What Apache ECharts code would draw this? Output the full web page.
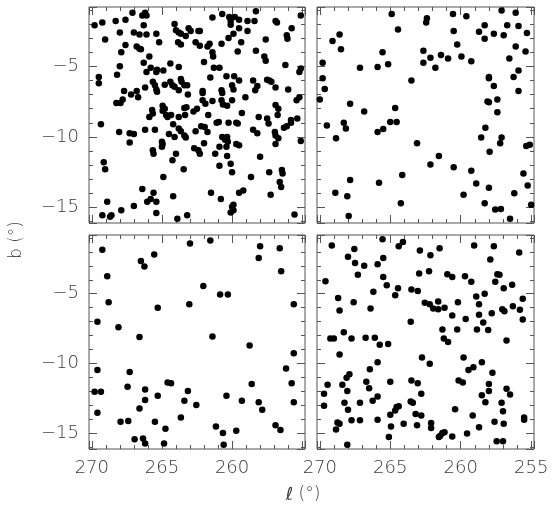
<!DOCTYPE html>
<html><head><meta charset="utf-8">
<script src="https://cdn.jsdelivr.net/npm/echarts@6/dist/echarts.min.js"></script>
<style>html,body{margin:0;padding:0;background:#fff}#c{width:560px;height:511px}</style>
</head><body><div id="c"></div>
<script>
// tick labels
const xTickLabelsLeft = [270, 265, 260];
const xTickLabelsRight = [270, 265, 260, 255];
const yTickLabels = [-5, -10, -15];
const xTitleSymbol = 'ℓ';
const xTitleUnit = '(°)';
const yTitle = 'b (°)';

// panel data: [l, b] in degrees
const panelA = [
[267.1,-1.2],[266.4,-1.4],[266.2,-1.2],[266.1,-1.4],[268.3,-1.8],[267.6,-1.7],[269.25,-1.9],[261.4,-1.55],[260.7,-1.3],[260.2,-1.5],[259.8,-1.5],[259.5,-1.7],[260.1,-1.8],[260.1,-2.05],[258.9,-1.8],[258.4,-1.8],[258.3,-1.1],[256.9,-1.8],[256.8,-1.9],[255.1,-1.4],[255.75,-2.3],
[269.8,-2.1],[268.0,-2.6],[267.0,-2.6],[266.3,-2.1],[266.6,-2.75],[266.1,-2.75],[265.4,-2.7],[269.05,-3.1],[264.1,-2.0],[264.0,-2.45],[263.8,-2.6],[263.65,-2.7],[263.1,-2.3],[262.95,-2.5],[263.3,-2.85],[262.4,-2.5],[262.3,-2.5],[260.25,-3.0],[259.9,-2.7],[259.5,-2.3],[258.9,-2.5],[256.1,-2.8],[256.05,-3.05],[257.6,-3.1],[265.2,-3.3],[263.85,-3.3],[263.65,-3.45],[262.6,-3.3],[262.3,-3.55],
[267.6,-3.5],[267.9,-4.0],[266.8,-3.6],[266.6,-3.75],[266.5,-3.8],[265.9,-4.3],[266.3,-4.75],[261.75,-3.6],[261.6,-3.4],[261.4,-4.0],[261.35,-4.3],[260.75,-3.4],[259.6,-3.95],[259.35,-3.3],[258.3,-3.9],[257.7,-4.3],[257.6,-4.6],[256.2,-4.9],[264.4,-4.8],[263.8,-5.05],[262.0,-4.7],[261.3,-5.1],[260.9,-5.1],[268.0,-5.0],
[268.2,-5.6],[269.5,-5.75],[269.5,-6.2],[266.1,-5.4],[265.8,-5.1],[265.4,-5.4],[265.35,-5.25],[264.9,-5.3],[266.2,-6.5],[265.65,-6.1],[265.5,-6.35],[265.4,-6.65],[265.35,-6.8],[264.8,-6.3],[264.4,-6.1],[264.25,-6.35],[264.1,-6.45],[263.65,-5.9],[263.6,-6.1],[263.4,-6.35],[263.2,-6.35],[263.8,-6.7],[263.15,-7.0],[267.7,-6.75],[266.8,-6.75],[261.55,-5.8],[262.1,-6.75],[262.1,-6.9],[260.75,-6.7],[260.7,-6.9],[260.4,-5.7],[260.0,-6.35],[259.85,-5.7],[259.5,-6.0],[259.9,-6.65],[259.05,-7.2],[258.5,-6.0],[258.35,-6.7],[258.2,-6.4],[257.5,-5.95],[257.35,-6.0],[257.2,-6.1],[256.9,-6.5],[256.0,-6.65],[255.1,-5.15],[255.2,-5.4],[255.4,-7.4],[255.2,-7.2],
[268.25,-7.6],[267.95,-7.6],[267.8,-7.35],[267.2,-7.0],[266.7,-7.2],[264.95,-7.8],[264.8,-8.0],[264.95,-8.15],[265.9,-8.6],[265.65,-8.35],[265.7,-8.1],[264.7,-8.45],[264.6,-8.6],[264.35,-8.45],[263.8,-8.6],[263.35,-8.45],[263.4,-7.95],[263.25,-7.9],[262.75,-8.2],[262.5,-8.0],[262.1,-7.4],[261.9,-7.65],[261.7,-8.45],[261.4,-7.45],[260.75,-7.4],[260.65,-7.7],[260.35,-7.8],[260.0,-7.4],[259.3,-8.3],[258.1,-8.6],[256.9,-7.75],[256.7,-8.0],[256.75,-8.45],[255.8,-8.8],[255.35,-8.7],
[269.35,-9.1],[268.05,-9.65],[267.3,-9.75],[267.0,-9.8],[267.3,-10.4],[266.2,-9.5],[265.5,-9.5],[265.0,-10.35],[264.95,-10.5],[265.0,-10.7],[264.2,-9.1],[263.8,-9.4],[263.65,-9.6],[263.4,-9.9],[263.3,-10.05],[264.5,-9.8],[264.1,-10.0],[262.6,-9.6],[262.2,-9.25],[261.95,-9.3],[261.75,-9.65],[261.1,-9.0],[260.95,-8.95],[260.25,-9.0],[259.7,-9.0],[259.6,-9.05],[260.7,-10.0],[260.35,-10.0],[260.5,-10.2],[260.3,-10.35],[259.7,-10.5],[259.5,-10.6],[258.5,-9.5],[258.2,-9.75],[257.5,-8.7],[257.4,-9.05],[256.95,-9.65],[256.9,-9.9],[256.9,-10.5],[256.7,-10.1],[256.3,-9.35],[256.1,-9.25],[255.8,-9.0],[255.1,-10.3],
[265.65,-10.95],[265.6,-11.2],[264.0,-11.2],[264.25,-11.65],[262.7,-10.8],[262.4,-10.95],[262.3,-11.2],[262.0,-10.45],[261.2,-11.2],[260.9,-10.7],[260.4,-10.7],[260.35,-11.35],[260.9,-12.05],[260.1,-11.9],[260.0,-12.5],[258.65,-12.85],[258.0,-11.4],[257.35,-12.5],[256.45,-12.35],[256.4,-12.6],[263.45,-12.3],[264.9,-12.85],[269.15,-11.8],[269.05,-12.3],
[266.4,-13.7],[266.05,-14.6],[265.8,-14.4],[265.6,-13.95],[265.4,-14.6],[265.4,-15.4],[264.2,-14.2],[263.9,-15.8],[263.2,-15.55],[261.5,-13.95],[260.8,-14.4],[260.0,-14.95],[259.9,-14.8],[259.9,-15.2],[260.1,-15.35],[259.5,-13.95],[259.2,-13.8],[257.25,-14.1],[256.6,-13.2],[256.5,-13.55],[255.55,-15.5],[268.9,-14.6],[269.25,-15.55],[268.7,-15.65],[268.6,-15.55],[267.9,-15.2],[267.0,-14.9]
];
const panelB = [
[264.9,-1.3],[262.4,-1.6],[262.45,-1.9],[260.55,-1.3],[259.6,-1.45],[257.1,-1.05],[256.1,-1.2],[264.45,-2.4],[268.6,-2.75],[269.1,-3.2],[268.5,-3.8],[260.5,-2.5],[260.25,-3.45],[258.7,-2.55],[258.3,-2.1],[258.3,-3.05],[257.65,-2.7],[256.95,-2.8],[256.7,-2.1],[255.9,-2.15],[255.3,-2.65],[256.1,-3.6],[255.4,-3.95],
[265.55,-4.0],[262.65,-3.9],[262.65,-4.75],[262.15,-4.4],[261.4,-4.2],[260.9,-4.45],[259.95,-4.3],[259.25,-4.65],[261.8,-5.1],[256.55,-4.45],[267.15,-5.1],[265.9,-5.05],[265.15,-4.85],[269.8,-4.75],[269.8,-5.85],[269.65,-6.6],[270.0,-7.35],[263.5,-6.0],[258.0,-5.75],[258.0,-5.85],[257.65,-6.4],[257.4,-7.35],[258.1,-7.5],[258.0,-7.55],[257.4,-8.25],[256.25,-5.75],[255.9,-5.3],[255.9,-6.75],
[267.85,-7.65],[266.85,-8.2],[269.5,-9.2],[268.3,-9.0],[268.15,-9.4],[268.85,-10.1],[265.9,-9.65],[265.5,-9.45],[265.0,-8.95],[264.65,-7.95],[264.55,-8.95],[263.1,-10.45],[258.25,-9.35],[258.55,-10.05],[257.1,-10.05],[257.2,-10.45],[257.95,-11.05],[255.35,-10.65],[255.1,-10.55],
[261.55,-11.35],[262.15,-11.95],[260.5,-12.15],[259.25,-12.4],[258.9,-13.3],[258.0,-13.6],[255.55,-12.6],[255.25,-13.45],[256.2,-14.0],[259.8,-14.1],[258.3,-14.7],[257.55,-15.15],[257.15,-15.1],[256.5,-15.8],[255.0,-14.8],[264.15,-12.7],[264.25,-14.7],[265.8,-13.25],[267.85,-13.05],[268.9,-13.95],[268.05,-14.2],[267.95,-15.6]
];
const panelC = [
[269.25,-1.85],[268.9,-3.75],[268.8,-5.6],[269.6,-7.0],[268.1,-7.4],[266.5,-2.65],[266.25,-3.05],[265.55,-2.2],[265.3,-6.0],[266.6,-8.1],[263.0,-1.4],[261.55,-1.2],[263.05,-5.75],[262.05,-4.45],[260.85,-5.05],[260.3,-5.05],[261.4,-8.05],[258.0,-1.6],[258.1,-2.45],[256.6,-1.75],[256.5,-3.4],[255.6,-5.75],[258.75,-8.7],[255.6,-9.25],
[269.6,-10.45],[269.8,-12.0],[269.35,-12.0],[269.6,-13.5],[267.3,-10.6],[267.45,-11.65],[267.95,-14.15],[267.4,-14.1],[266.95,-15.4],[266.35,-15.35],[266.2,-15.7],[266.6,-13.2],[266.2,-11.85],[266.2,-12.6],[265.3,-12.3],[265.5,-14.15],[264.75,-14.65],[264.85,-15.7],[264.6,-11.35],[264.35,-11.4],[263.65,-13.85],[263.4,-12.65],[263.15,-11.95],[262.55,-12.95],[261.15,-14.5],[260.65,-14.95],[260.6,-15.8],[260.4,-12.3],[259.7,-14.8],[259.3,-12.65],[258.6,-11.45],[258.1,-12.75],[257.85,-13.3],[256.9,-14.4],[256.55,-14.75],[256.15,-10.35],[255.75,-11.4],[255.6,-12.75]
];
const panelD = [
[269.15,-1.55],[265.55,-1.1],[264.1,-1.3],[264.4,-1.6],[267.55,-1.8],[268.0,-2.35],[267.5,-2.8],[266.85,-3.0],[265.5,-2.45],[265.9,-2.9],[267.3,-3.65],[265.5,-3.8],[265.25,-4.4],[264.45,-4.6],[264.65,-5.1],[266.2,-4.85],[269.6,-4.1],[268.7,-5.3],[268.6,-6.2],[267.6,-5.6],[266.4,-6.05],[263.55,-7.0],[263.5,-4.7],[263.05,-4.8],
[262.9,-1.9],[262.15,-2.25],[261.5,-1.75],[262.95,-3.55],[262.25,-3.4],[262.55,-5.65],[262.2,-5.75],[261.95,-6.05],[261.6,-6.1],[261.6,-5.55],[261.15,-6.0],[260.2,-5.6],[260.6,-6.55],[260.95,-3.6],[260.6,-3.8],[259.7,-3.75],[259.25,-4.15],[259.05,-1.55],[257.9,-2.55],[257.65,-1.6],[257.4,-3.6],[257.25,-3.65],[257.55,-4.15],[256.95,-4.6],[256.35,-4.35],[255.85,-2.05],
[258.9,-5.2],[258.7,-5.75],[258.7,-6.5],[258.4,-7.05],[258.3,-5.0],[257.8,-6.4],[258.05,-7.6],[258.85,-7.55],[259.65,-6.8],[260.25,-7.55],[257.05,-6.1],[256.9,-6.25],[256.3,-5.9],[255.8,-6.15],[255.6,-5.35],[255.6,-6.85],[256.75,-8.35],[261.3,-7.55],[261.2,-8.2],[260.9,-8.45],
[269.25,-8.2],[269.0,-8.2],[268.3,-7.75],[267.75,-8.2],[266.75,-8.15],[266.1,-8.15],[265.75,-8.65],[265.15,-8.6],[268.6,-9.35],[265.9,-9.9],[266.45,-10.4],[262.75,-9.55],[262.2,-10.0],[259.8,-9.55],[259.45,-10.45],[259.1,-10.25],[258.5,-9.9],[257.75,-10.65],[258.0,-11.45],[258.0,-11.95],[256.75,-11.8],[256.5,-12.2],[258.5,-12.25],[258.25,-12.75],[260.15,-11.2],[259.85,-11.35],
[268.1,-11.0],[267.9,-10.75],[269.45,-11.5],[268.4,-11.5],[268.05,-11.95],[269.7,-12.15],[269.7,-13.0],[268.25,-12.8],[268.0,-13.3],[267.15,-12.8],[266.7,-11.3],[266.5,-11.75],[266.25,-12.65],[265.9,-12.35],[265.0,-11.3],[263.5,-11.2],[263.05,-11.4],[262.8,-12.15],[263.55,-12.7],[263.4,-12.8],[264.55,-13.1],[264.4,-13.05],[264.65,-13.35],[265.0,-13.65],[265.9,-14.0],[267.15,-14.05],[267.75,-14.05],[268.75,-14.2],[268.6,-14.3],[268.85,-14.7],[268.05,-15.8],
[264.95,-14.5],[265.1,-15.25],[264.05,-14.3],[263.1,-14.4],[263.2,-13.6],[262.8,-13.7],[262.1,-14.25],[262.1,-14.6],[261.55,-15.25],[261.45,-15.15],[261.3,-14.95],[261.15,-14.9],[260.6,-15.2],[260.4,-13.25],[259.55,-15.0],[259.15,-13.7],[258.7,-14.55],[257.6,-14.15],[256.95,-14.3],[257.1,-12.8],[257.0,-13.4],[257.45,-15.55],[257.0,-15.55],[255.5,-13.85],[255.5,-14.0]
];

const X_MIN = 254.8, X_MAX = 270.2, Y_MIN = -16.1, Y_MAX = -0.8;
const panels = [panelA, panelB, panelC, panelD];
const gridBoxes = [
  {left: 89, top: 7, width: 216, height: 216},
  {left: 317, top: 7, width: 217, height: 216},
  {left: 89, top: 235, width: 216, height: 214},
  {left: 317, top: 235, width: 217, height: 214}
];
const xLabelSets = [null, null, xTickLabelsLeft, xTickLabelsRight];
const showYLabels = [true, false, true, false];
const AX = '#555';
const FONT = 'DejaVu Sans';
const TXT = '#3a3a3a';
const isInt = v => Math.abs(v - Math.round(v)) < 1e-6;

const grid = gridBoxes.map(b => Object.assign({show: true, borderColor: AX, borderWidth: 1, backgroundColor: 'transparent'}, b));
const xAxis = [], yAxis = [];
gridBoxes.forEach((b, i) => {
  const xs = xLabelSets[i];
  const bx = {type: 'value', gridIndex: i, min: X_MIN, max: X_MAX, inverse: true,
    splitLine: {show: false}, axisLine: {show: false}};
  const by = {type: 'value', gridIndex: i, min: Y_MIN, max: Y_MAX,
    splitLine: {show: false}, axisLine: {show: false}};
  xAxis.push(Object.assign({}, bx, {position: 'bottom', splitNumber: 3,
    axisTick: {show: true, inside: true, length: 8, lineStyle: {color: AX}},
    axisLabel: {show: !!xs, hideOverlap: false, margin: 10, fontSize: 18, fontWeight: 200, color: TXT, fontFamily: FONT,
      formatter: v => (xs && isInt(v) && xs.includes(Math.round(v))) ? String(Math.round(v)) : ''}}));
  xAxis.push(Object.assign({}, bx, {position: 'bottom', splitNumber: 15,
    axisTick: {show: true, inside: true, length: 4, lineStyle: {color: AX}}, axisLabel: {show: false}}));
  xAxis.push(Object.assign({}, bx, {position: 'top', splitNumber: 3,
    axisTick: {show: true, inside: true, length: 8, lineStyle: {color: AX}}, axisLabel: {show: false}}));
  xAxis.push(Object.assign({}, bx, {position: 'top', splitNumber: 15,
    axisTick: {show: true, inside: true, length: 4, lineStyle: {color: AX}}, axisLabel: {show: false}}));
  yAxis.push(Object.assign({}, by, {position: 'left', splitNumber: 3,
    axisTick: {show: true, inside: true, length: 8, lineStyle: {color: AX}},
    axisLabel: {show: showYLabels[i], hideOverlap: false, margin: 10, fontSize: 18, fontWeight: 200, color: TXT, fontFamily: FONT,
      formatter: v => (isInt(v) && yTickLabels.includes(Math.round(v))) ? String(Math.round(v)).replace('-', '\u2212') : ''}}));
  yAxis.push(Object.assign({}, by, {position: 'left', splitNumber: 15,
    axisTick: {show: true, inside: true, length: 4, lineStyle: {color: AX}}, axisLabel: {show: false}}));
  yAxis.push(Object.assign({}, by, {position: 'right', splitNumber: 3,
    axisTick: {show: true, inside: true, length: 8, lineStyle: {color: AX}}, axisLabel: {show: false}}));
  yAxis.push(Object.assign({}, by, {position: 'right', splitNumber: 15,
    axisTick: {show: true, inside: true, length: 4, lineStyle: {color: AX}}, axisLabel: {show: false}}));
});

const series = panels.map((d, i) => ({
  type: 'scatter', xAxisIndex: 4 * i, yAxisIndex: 4 * i, data: d,
  symbol: 'circle', symbolSize: 6.5, itemStyle: {color: '#000', opacity: 1}, silent: true, animation: false
}));

const chart = echarts.init(document.getElementById('c'), null, {renderer: 'canvas'});
chart.setOption({
  animation: false,
  backgroundColor: '#fff',
  grid, xAxis, yAxis, series,
  graphic: [
    {type: 'text', x: 17, y: 240, rotation: Math.PI / 2,
      style: {text: yTitle, fontSize: 17, fontWeight: 200, fill: TXT, fontFamily: FONT, align: 'center', verticalAlign: 'middle'}},
    {type: 'text', x: 303, y: 495,
      style: {text: '{i|' + xTitleSymbol + '} ' + xTitleUnit, fontSize: 17, fontWeight: 200, fill: TXT, fontFamily: FONT,
        align: 'center', verticalAlign: 'middle',
        rich: {i: {fontSize: 18, fontStyle: 'italic', fontWeight: 200, fill: TXT, fontFamily: FONT}}}}
  ]
});
</script></body></html>
